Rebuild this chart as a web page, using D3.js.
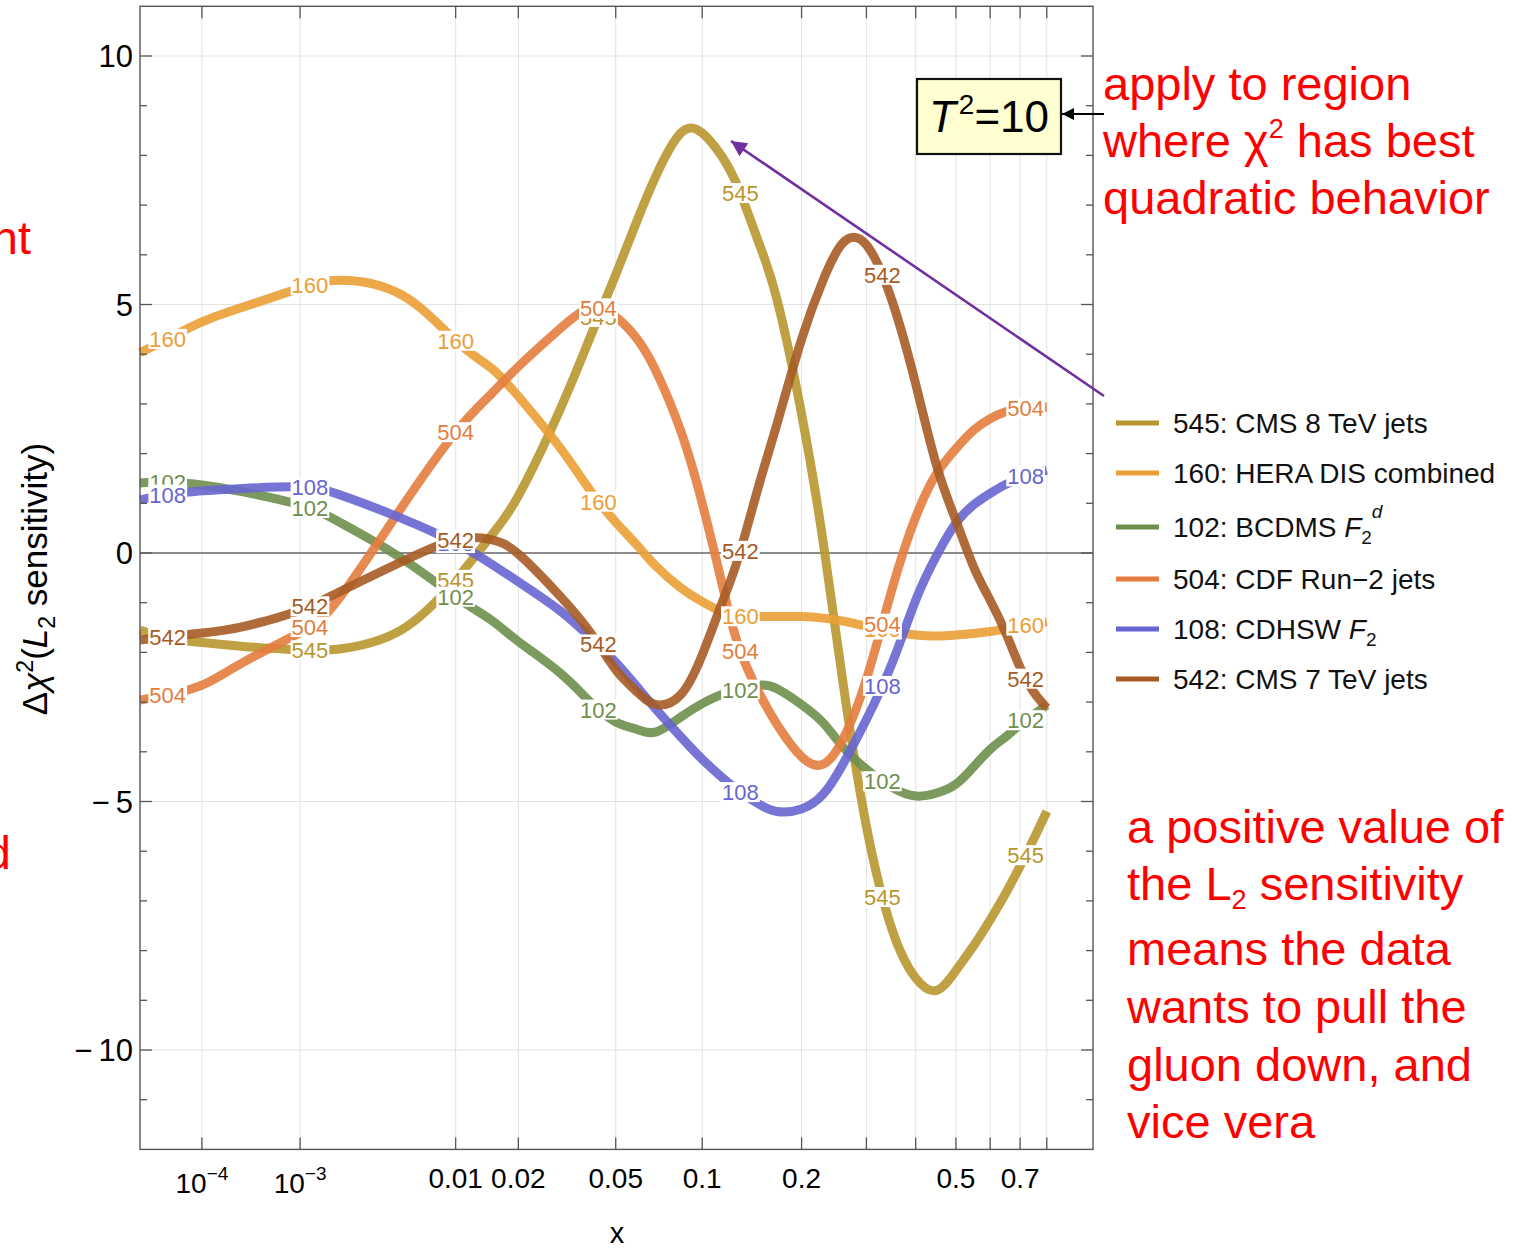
<!DOCTYPE html>
<html lang="en">
<head>
<meta charset="UTF-8">
<title>L2 sensitivity of the gluon</title>
<script src="https://d3js.org/d3.v7.min.js"></script>
<style>
  body { margin: 0; background: #fff; }
  svg { display: block; font-family: "Liberation Sans", Arial, sans-serif; }
  .grid line { stroke: #e2e2e2; stroke-width: 1; }
  .frame { fill: none; stroke: #555; stroke-width: 1.4; }
  .tick { stroke: #555; stroke-width: 1.3; }
  .red { fill: #ff0000; font-size: 47px; }
</style>
</head>
<body>
<svg id="chart" width="1520" height="1249"></svg>
<script>
const xs = [1e-5, 3e-5, 1e-4, 3e-4, 1e-3, 2e-3, 5e-3, 0.01, 0.015, 0.02, 0.03, 0.04, 0.05, 0.06,
            0.07, 0.085, 0.1, 0.115, 0.13, 0.15, 0.17, 0.2, 0.23, 0.26, 0.3, 0.35, 0.4, 0.45,
            0.5, 0.55, 0.6, 0.65, 0.7, 0.75, 0.8];

// L2 sensitivity for each experiment
const s545 = [-1.55, -1.71, -1.80, -1.88, -1.95, -1.93, -1.55, -0.54, 0.35, 1.15, 2.85, 4.35, 5.6, 6.7,
              7.6, 8.45, 8.45, 8.0, 7.35, 6.25, 5.1, 2.8, 0.2, -2.6, -5.5, -7.6, -8.55, -8.8,
              -8.4, -7.9, -7.38, -6.85, -6.3, -5.75, -5.2];
const s160 = [4.03, 4.29, 4.65, 4.95, 5.33, 5.49, 5.2, 4.27, 3.72, 3.15, 2.14, 1.25, 0.62, 0.15,
              -0.27, -0.7, -0.98, -1.18, -1.27, -1.28, -1.28, -1.28, -1.31, -1.37, -1.47, -1.58, -1.65, -1.67,
              -1.65, -1.62, -1.58, -1.53, -1.48, -1.43, -1.38];
const s102 = [1.41, 1.43, 1.37, 1.23, 0.97, 0.62, -0.1, -0.88, -1.35, -1.78, -2.4, -3.0, -3.4, -3.55,
              -3.6, -3.3, -3.03, -2.85, -2.76, -2.66, -2.73, -3.05, -3.42, -3.9, -4.35, -4.72, -4.89, -4.83,
              -4.65, -4.3, -3.95, -3.7, -3.45, -3.25, -3.06];
const s504 = [-2.96, -2.86, -2.66, -2.2, -1.6, -0.9, 0.9, 2.43, 3.2, 3.75, 4.5, 4.92, 4.75, 4.3,
              3.65, 2.45, 1.0, -0.55, -1.85, -2.8, -3.45, -4.1, -4.25, -3.75, -2.54, -0.7, 0.72, 1.6,
              2.1, 2.47, 2.7, 2.84, 2.91, 2.93, 2.94];
const s108 = [1.07, 1.17, 1.25, 1.3, 1.33, 1.17, 0.7, 0.2, -0.22, -0.58, -1.15, -1.7, -2.2, -2.7,
              -3.15, -3.7, -4.15, -4.5, -4.78, -5.05, -5.2, -5.15, -4.85, -4.25, -3.35, -2.2, -0.95, -0.05,
              0.6, 0.97, 1.2, 1.38, 1.5, 1.6, 1.67];
const s542 = [-1.75, -1.69, -1.61, -1.48, -1.15, -0.78, -0.18, 0.27, 0.27, -0.02, -0.85, -1.6, -2.35, -2.8,
              -3.05, -2.85, -2.05, -1.05, -0.1, 1.35, 2.6, 4.3, 5.5, 6.24, 6.2, 5.05, 3.4, 1.75,
              0.65, -0.28, -0.95, -1.6, -2.3, -2.8, -3.12];

const ids = ["545", "160", "102", "504", "108", "542"];
const values = [s545, s160, s102, s504, s108, s542];
const colors = ["#b8962e", "#eb9e36", "#6f8f4c", "#e37d3e", "#6765cf", "#a65b24"];

// where the little number tags sit along every curve
const labelXs = [3.2e-5, 1.2e-3, 0.01, 0.043, 0.132, 0.33, 0.72];

const xTicks = [1e-4, 1e-3, 0.01, 0.02, 0.05, 0.1, 0.2, 0.3, 0.4, 0.5, 0.6, 0.7, 0.8];
const xTickLabels = {1e-4: ["10", "\u22124"], 1e-3: ["10", "\u22123"], 0.01: "0.01", 0.02: "0.02",
                     0.05: "0.05", 0.1: "0.1", 0.2: "0.2", 0.5: "0.5", 0.7: "0.7"};
const yMajor = [-10, -5, 0, 5, 10];
const yMinor = d3.range(-11, 11);

const svg = d3.select("#chart");
const plotLeft = 140, plotRight = 1093, plotTop = 6.3, plotBottom = 1149.4;

const x = d3.scalePow().exponent(0.2).domain([1e-5, 1]).range([plotLeft, plotRight]);
const y = d3.scaleLinear().domain([-12, 11]).range([plotBottom, plotTop]);

// grid
const grid = svg.append("g").attr("class", "grid");
grid.selectAll(".vx").data(xTicks).enter().append("line")
  .attr("x1", d => x(d)).attr("x2", d => x(d)).attr("y1", plotTop).attr("y2", plotBottom);
grid.selectAll(".hy").data([-10, -5, 5, 10]).enter().append("line")
  .attr("x1", plotLeft).attr("x2", plotRight).attr("y1", d => y(d)).attr("y2", d => y(d));
svg.append("line").attr("x1", plotLeft).attr("x2", plotRight).attr("y1", y(0)).attr("y2", y(0))
  .attr("stroke", "#666").attr("stroke-width", 1.6);

// curves
const line = d3.line().x(d => x(d[0])).y(d => y(d[1])).curve(d3.curveNatural);
const paths = [];
values.forEach((vals, i) => {
  const p = svg.append("path")
    .datum(xs.map((xv, j) => [xv, vals[j]]))
    .attr("d", line)
    .attr("fill", "none")
    .attr("stroke", colors[i])
    .attr("stroke-opacity", 0.9)
    .attr("stroke-width", 9);
  paths.push(p.node());
});

function pointAtX(node, px) {
  let lo = 0, hi = node.getTotalLength();
  for (let k = 0; k < 40; k++) {
    const mid = (lo + hi) / 2;
    if (node.getPointAtLength(mid).x < px) lo = mid; else hi = mid;
  }
  return node.getPointAtLength(lo);
}

// curve tags
paths.forEach((node, i) => {
  labelXs.forEach(lx => {
    const pt = pointAtX(node, x(lx));
    const g = svg.append("g");
    const t = g.append("text")
      .attr("x", pt.x).attr("y", pt.y).attr("dy", "0.36em")
      .attr("text-anchor", "middle")
      .attr("font-size", 22)
      .attr("fill", colors[i])
      .text(ids[i]);
    const bb = t.node().getBBox();
    g.insert("rect", "text")
      .attr("x", bb.x - 1).attr("y", pt.y - 10).attr("width", bb.width + 2).attr("height", 20)
      .attr("fill", "#fff");
  });
});

// frame and ticks
svg.append("rect").attr("class", "frame")
  .attr("x", plotLeft).attr("y", plotTop).attr("width", plotRight - plotLeft).attr("height", plotBottom - plotTop);
xTicks.forEach(t => {
  svg.append("line").attr("class", "tick").attr("x1", x(t)).attr("x2", x(t)).attr("y1", plotBottom).attr("y2", plotBottom - 12);
  svg.append("line").attr("class", "tick").attr("x1", x(t)).attr("x2", x(t)).attr("y1", plotTop).attr("y2", plotTop + 12);
});
yMinor.forEach(v => {
  const len = yMajor.includes(v) ? 12 : 7;
  svg.append("line").attr("class", "tick").attr("x1", plotLeft).attr("x2", plotLeft + len).attr("y1", y(v)).attr("y2", y(v));
  svg.append("line").attr("class", "tick").attr("x1", plotRight).attr("x2", plotRight - len).attr("y1", y(v)).attr("y2", y(v));
});

// tick labels
yMajor.forEach(v => {
  svg.append("text")
    .attr("x", 133).attr("y", y(v)).attr("dy", "0.36em")
    .attr("text-anchor", "end").attr("font-size", 31)
    .text(v < 0 ? "\u2212\u2009" + Math.abs(v) : String(v));
});
xTicks.forEach(t => {
  const lab = xTickLabels[t];
  if (!lab) return;
  const txt = svg.append("text").attr("x", x(t)).attr("text-anchor", "middle").attr("font-size", 28);
  if (Array.isArray(lab)) {
    txt.attr("y", 1193);
    txt.append("tspan").text(lab[0]);
    txt.append("tspan").attr("font-size", 19).attr("dy", -13).text(lab[1]);
  } else {
    txt.attr("y", 1188).text(lab);
  }
});

// axis titles
svg.append("text").attr("x", 617).attr("y", 1243).attr("text-anchor", "middle").attr("font-size", 29).text("x");
const yt = svg.append("text")
  .attr("transform", "translate(47,579) rotate(-90)")
  .attr("text-anchor", "middle").attr("font-size", 35);
yt.append("tspan").text("\u0394");
yt.append("tspan").attr("font-style", "italic").text("\u03c7");
yt.append("tspan").attr("font-size", 23).attr("dy", -14).text("2");
yt.append("tspan").attr("dy", 14).text("(");
yt.append("tspan").attr("font-style", "italic").text("L");
yt.append("tspan").attr("font-size", 23).attr("dy", 8).text("2");
yt.append("tspan").attr("dy", -8).text(" sensitivity)");

// legend
const legendY = [423, 473, 527, 579, 629, 679];
ids.forEach((id, i) => {
  svg.append("line").attr("x1", 1116).attr("x2", 1159).attr("y1", legendY[i]).attr("y2", legendY[i])
    .attr("stroke", colors[i]).attr("stroke-width", 5);
});
const legendText = [
  [["545: CMS 8 TeV jets"]],
  [["160: HERA DIS combined"]],
  [["102: BCDMS "], ["F", "i"], ["2", "sub"], ["d", "supi"]],
  [["504: CDF Run\u22122 jets"]],
  [["108: CDHSW "], ["F", "i"], ["2", "sub"]],
  [["542: CMS 7 TeV jets"]]
];
legendText.forEach((parts, i) => {
  const t = svg.append("text").attr("x", 1173).attr("y", legendY[i] + 10).attr("font-size", 28).attr("fill", "#111");
  let shift = 0;
  parts.forEach(([s, kind]) => {
    const sp = t.append("tspan").text(s);
    if (kind === "i") sp.attr("font-style", "italic");
    if (kind === "sub") { sp.attr("font-size", 19).attr("dy", 7 - shift); shift = 7; }
    if (kind === "supi") { sp.attr("font-size", 19).attr("font-style", "italic").attr("dy", -19 - shift); shift = -19; }
  });
});

// T^2 box
svg.append("rect").attr("x", 917).attr("y", 79).attr("width", 144).attr("height", 75)
  .attr("fill", "#ffffd2").attr("stroke", "#111").attr("stroke-width", 2.2);
const tb = svg.append("text").attr("x", 989).attr("y", 132).attr("text-anchor", "middle").attr("font-size", 44);
tb.append("tspan").attr("font-style", "italic").text("T");
tb.append("tspan").attr("font-size", 28).attr("dx", 3).attr("dy", -18).text("2");
tb.append("tspan").attr("dy", 18).text("=10");

const defs = svg.append("defs");
defs.append("marker").attr("id", "blackhead").attr("viewBox", "0 0 10 10").attr("refX", 10).attr("refY", 5)
  .attr("markerWidth", 6).attr("markerHeight", 6).attr("markerUnits", "strokeWidth").attr("orient", "auto")
  .append("path").attr("d", "M0,0 L10,5 L0,10 Z").attr("fill", "#000");
defs.append("marker").attr("id", "purplehead").attr("viewBox", "0 0 10 10").attr("refX", 10).attr("refY", 5)
  .attr("markerWidth", 7).attr("markerHeight", 6).attr("markerUnits", "strokeWidth").attr("orient", "auto")
  .append("path").attr("d", "M0,0 L10,5 L0,10 Z").attr("fill", "#7030a0");

svg.append("line").attr("x1", 1104).attr("y1", 114).attr("x2", 1062).attr("y2", 114)
  .attr("stroke", "#000").attr("stroke-width", 2).attr("marker-end", "url(#blackhead)");
svg.append("line").attr("x1", 1104).attr("y1", 396).attr("x2", 731).attr("y2", 141)
  .attr("stroke", "#7030a0").attr("stroke-width", 2.6).attr("marker-end", "url(#purplehead)");

// red notes
const note1 = svg.append("g");
note1.append("text").attr("class", "red").attr("x", 1103).attr("y", 100).text("apply to region");
const w2 = note1.append("text").attr("class", "red").attr("x", 1103).attr("y", 157);
w2.append("tspan").text("where \u03c7");
w2.append("tspan").attr("font-size", 27).attr("dy", -19).text("2");
w2.append("tspan").attr("dy", 19).text(" has best");
note1.append("text").attr("class", "red").attr("x", 1103).attr("y", 214).text("quadratic behavior");

const note2 = svg.append("g");
note2.append("text").attr("class", "red").attr("x", 1127).attr("y", 843).text("a positive value of");
const l2 = note2.append("text").attr("class", "red").attr("x", 1127).attr("y", 900);
l2.append("tspan").text("the L");
l2.append("tspan").attr("font-size", 27).attr("dy", 9).text("2");
l2.append("tspan").attr("dy", -9).text(" sensitivity");
note2.append("text").attr("class", "red").attr("x", 1127).attr("y", 965).text("means the data");
note2.append("text").attr("class", "red").attr("x", 1127).attr("y", 1023).text("wants to pull the");
note2.append("text").attr("class", "red").attr("x", 1127).attr("y", 1081).text("gluon down, and");
note2.append("text").attr("class", "red").attr("x", 1127).attr("y", 1138).text("vice vera");

// bits of text cut off at the left edge
svg.append("text").attr("class", "red").attr("x", 31).attr("y", 254).attr("text-anchor", "end").text("nt");
svg.append("text").attr("class", "red").attr("x", 11).attr("y", 869).attr("text-anchor", "end").text("d");
</script>
</body>
</html>
